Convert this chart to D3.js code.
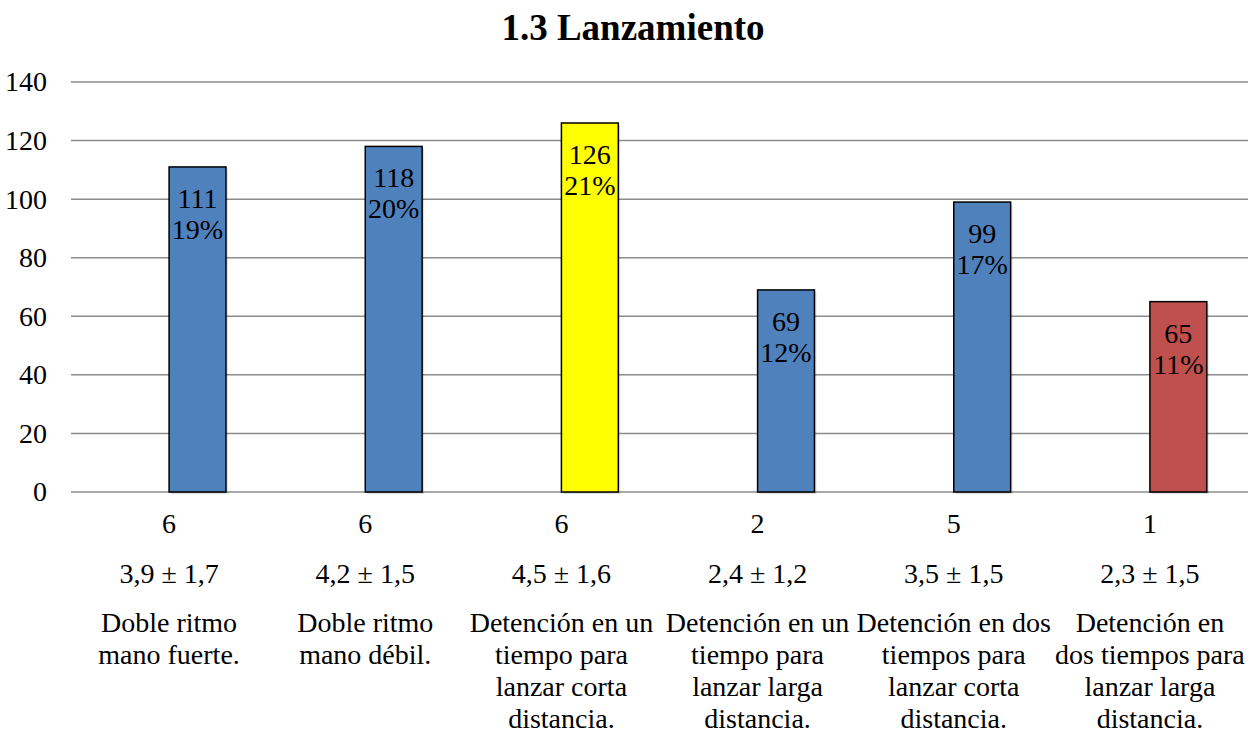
<!DOCTYPE html>
<html>
<head>
<meta charset="utf-8">
<script src="https://cdn.jsdelivr.net/npm/d3@7"></script>
<style>
  html, body { margin: 0; padding: 0; background: #fff; }
  svg text { font-family: 'Liberation Serif', 'Times New Roman', Tinos, serif !important; }
</style>
</head>
<body>
<svg id="chart" width="1259" height="734"></svg>
<script>
const title = "1.3 Lanzamiento";
const categories = [
  "Doble ritmo\nmano fuerte.",
  "Doble ritmo\nmano débil.",
  "Detención en un\ntiempo para\nlanzar corta\ndistancia.",
  "Detención en un\ntiempo para\nlanzar larga\ndistancia.",
  "Detención en dos\ntiempos para\nlanzar corta\ndistancia.",
  "Detención en\ndos tiempos para\nlanzar larga\ndistancia."
];
const values = [111, 118, 126, 69, 99, 65];
const nRow = ["6", "6", "6", "2", "5", "1"];
const meanSdRow = ["3,9 ± 1,7", "4,2 ± 1,5", "4,5 ± 1,6", "2,4 ± 1,2", "3,5 ± 1,5", "2,3 ± 1,5"];
const barColors = ["#4F81BD", "#4F81BD", "#FFFF00", "#4F81BD", "#4F81BD", "#C0504D"];
const yTicks = [0, 20, 40, 60, 80, 100, 120, 140];

const FONT = "'Liberation Serif', 'Times New Roman', serif";
const svg = d3.select("#chart");
const margin = { left: 71, right: 11, top: 82, bottom: 242 };
const W = 1259, H = 734;
const x0 = margin.left, x1 = W - margin.right;
const yTop = margin.top, yBot = H - margin.bottom;

const x = d3.scaleBand().domain(d3.range(categories.length)).range([x0, x1]).padding(0);
const y = d3.scaleLinear().domain([0, 140]).range([yBot, yTop]);
const total = d3.sum(values);
const pct = d3.format(".0%");

// title
svg.append("text")
  .attr("x", 633).attr("y", 40)
  .attr("text-anchor", "middle")
  .attr("font-family", FONT)
  .attr("font-size", 37).attr("font-weight", "bold")
  .attr("fill", "#000")
  .text(title);

// gridlines
svg.append("g")
  .selectAll("line").data(yTicks).join("line")
  .attr("x1", x0).attr("x2", x1)
  .attr("y1", d => y(d)).attr("y2", d => y(d))
  .attr("stroke", "#8c8c8c").attr("stroke-width", 1.5);

// y axis labels
const yAxis = d3.axisLeft(y).tickValues(yTicks).tickSize(0).tickPadding(24);
const gy = svg.append("g").attr("transform", `translate(${x0},0)`).call(yAxis)
  .attr("font-family", FONT).attr("font-size", 28);
gy.select(".domain").remove();
gy.selectAll("text").attr("fill", "#000");

// bars
const barW = x.bandwidth() * 0.29;
const bx = i => x(i) + x.bandwidth() / 2;

svg.append("g")
  .selectAll("rect").data(values).join("rect")
  .attr("x", (d, i) => bx(i) + 2).attr("y", d => y(d) + 2)
  .attr("width", barW).attr("height", d => yBot - y(d))
  .attr("fill", "#000").attr("opacity", 0.12);

svg.append("g")
  .selectAll("rect").data(values).join("rect")
  .attr("x", (d, i) => bx(i)).attr("y", d => y(d))
  .attr("width", barW).attr("height", d => yBot - y(d))
  .attr("fill", (d, i) => barColors[i])
  .attr("stroke", "#000").attr("stroke-width", 1.5);

// value labels
const lbl = svg.append("g").attr("font-family", FONT)
  .selectAll("text").data(values).join("text")
  .attr("text-anchor", "middle")
  .attr("font-size", 28).attr("fill", "#000");
lbl.append("tspan")
  .attr("x", (d, i) => bx(i) + barW / 2).attr("y", d => y(d) + 41)
  .text(d => d);
lbl.append("tspan")
  .attr("x", (d, i) => bx(i) + barW / 2).attr("y", d => y(d) + 72)
  .text(d => pct(d / total));

// category axis rows
const cx = i => x(i) + x.bandwidth() / 2;
const gc = svg.append("g").attr("font-family", FONT).attr("font-size", 28).attr("fill", "#000");
gc.append("g").selectAll("text").data(nRow).join("text")
  .attr("x", (d, i) => cx(i)).attr("y", 533)
  .attr("text-anchor", "middle")
  .text(d => d);
gc.append("g").selectAll("text").data(meanSdRow).join("text")
  .attr("x", (d, i) => cx(i)).attr("y", 583)
  .attr("text-anchor", "middle")
  .text(d => d);
const cat = gc.append("g").selectAll("text").data(categories).join("text")
  .attr("text-anchor", "middle");
cat.each(function(d, i) {
  const t = d3.select(this);
  d.split("\n").forEach((line, k) => {
    t.append("tspan").attr("x", cx(i)).attr("y", 632 + k * 32).text(line);
  });
});
</script>
</body>
</html>
